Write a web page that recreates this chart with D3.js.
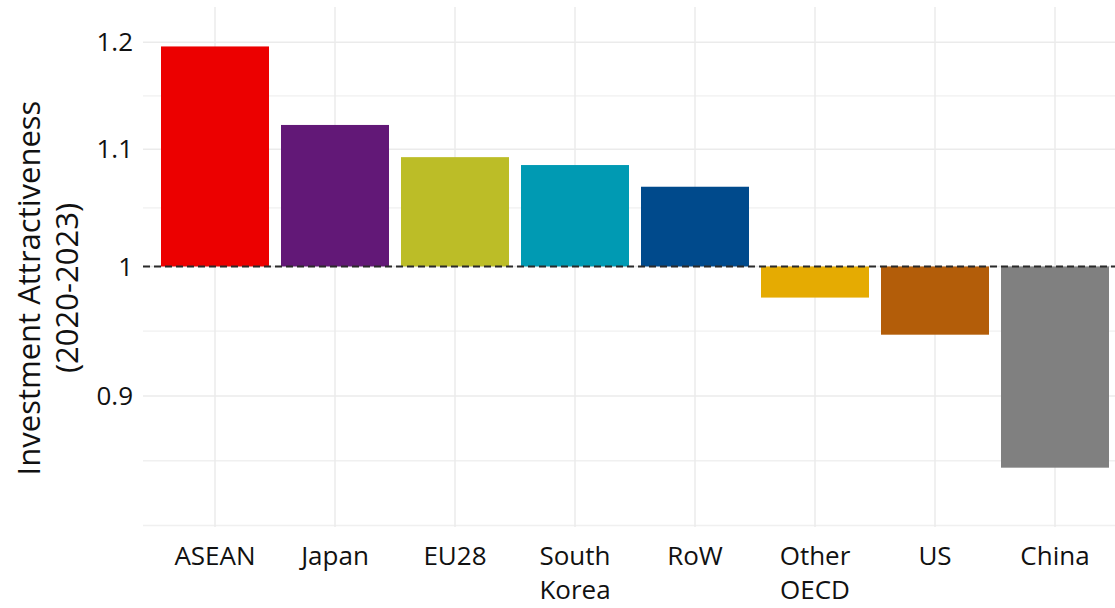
<!DOCTYPE html>
<html>
<head>
<meta charset="utf-8">
<script src="https://cdn.jsdelivr.net/npm/d3@7"></script>
<style>
  body { margin: 0; background: #fff; }
  text { font-family: "Open Sans", sans-serif; fill: #111; }
</style>
</head>
<body>
<div class="chart"></div>
<script>
const width = 1115
const height = 608

// data
const regions = ['ASEAN', 'Japan', 'EU28', 'South Korea', 'RoW', 'Other OECD', 'US', 'China']
const attractiveness = [1.196, 1.122, 1.093, 1.086, 1.067, 0.975, 0.946, 0.849]
const barColors = ['#ec0000', '#621877', '#bcbd27', '#009ab3', '#004a8c', '#e5ab02', '#b35d09', '#808080']
const yTicks = [0.9, 1, 1.1, 1.2]
const yTickLabels = ['0.9', '1', '1.1', '1.2']
const yMinorGrid = [0.81, 0.8538, 0.9487, 1.0488, 1.1489]
const xLabelLines = [['ASEAN'], ['Japan'], ['EU28'], ['South', 'Korea'], ['RoW'], ['Other', 'OECD'], ['US'], ['China']]

const margin = {top: 7, right: -12, bottom: 81, left: 143}

const svg = d3.select('.chart')
    .append('svg')
        .attr('width', width)
        .attr('height', height)

const x = d3.scaleBand()
    .domain(regions)
    .range([margin.left, width - margin.right])
    .paddingInner(0.1)
    .paddingOuter(0.15)

const y = d3.scaleLog()
    .domain([0.809, 1.235])
    .range([height - margin.bottom, margin.top])

const grid = svg.append('g')

// minor gridlines
grid.selectAll('.minor')
    .data(yMinorGrid)
    .join('line')
        .attr('x1', margin.left)
        .attr('x2', width)
        .attr('y1', d => y(d))
        .attr('y2', d => y(d))
        .attr('stroke', '#f0f0f0')
        .attr('stroke-width', 1.3)

// major gridlines
grid.selectAll('.major')
    .data(yTicks)
    .join('line')
        .attr('x1', margin.left)
        .attr('x2', width)
        .attr('y1', d => y(d))
        .attr('y2', d => y(d))
        .attr('stroke', '#ebebeb')
        .attr('stroke-width', 1.5)

grid.selectAll('.vert')
    .data(regions)
    .join('line')
        .attr('x1', d => x(d) + x.bandwidth() / 2)
        .attr('x2', d => x(d) + x.bandwidth() / 2)
        .attr('y1', margin.top)
        .attr('y2', height - margin.bottom)
        .attr('stroke', '#ebebeb')
        .attr('stroke-width', 1.5)

// bars start at 1 (log scale baseline)
svg.append('g')
    .selectAll('rect')
    .data(regions)
    .join('rect')
        .attr('x', d => x(d))
        .attr('width', x.bandwidth())
        .attr('y', (d, i) => Math.min(y(attractiveness[i]), y(1)))
        .attr('height', (d, i) => Math.abs(y(attractiveness[i]) - y(1)))
        .attr('fill', (d, i) => barColors[i])

// reference line at 1
svg.append('line')
    .attr('x1', margin.left)
    .attr('x2', width)
    .attr('y1', y(1))
    .attr('y2', y(1))
    .attr('stroke', '#2a2a2a')
    .attr('stroke-width', 2)
    .attr('stroke-dasharray', '7,4')

// y tick labels
svg.append('g')
    .selectAll('text')
    .data(yTicks)
    .join('text')
        .attr('x', 133)
        .attr('y', d => y(d))
        .attr('dy', '0.35em')
        .attr('text-anchor', 'end')
        .style('font-size', '26px')
        .text((d, i) => yTickLabels[i])

// x labels
const xl = svg.append('g')
    .selectAll('text')
    .data(regions)
    .join('text')
        .attr('x', d => x(d) + x.bandwidth() / 2)
        .attr('y', 565)
        .attr('text-anchor', 'middle')
        .style('font-size', '26px')

xl.selectAll('tspan')
    .data((d, i) => xLabelLines[i])
    .join('tspan')
        .attr('x', function(){ return d3.select(this.parentNode).attr('x') })
        .attr('dy', (d, i) => i === 0 ? 0 : 34)
        .text(d => d)

// y axis title
const title = svg.append('text')
    .attr('transform', 'translate(0,288) rotate(-90)')
    .attr('text-anchor', 'middle')
    .style('font-size', '31px')

title.append('tspan').attr('x', 0).attr('y', 40).text('Investment Attractiveness')
title.append('tspan').attr('x', 0).attr('y', 78).text('(2020-2023)')
</script>
</body>
</html>
